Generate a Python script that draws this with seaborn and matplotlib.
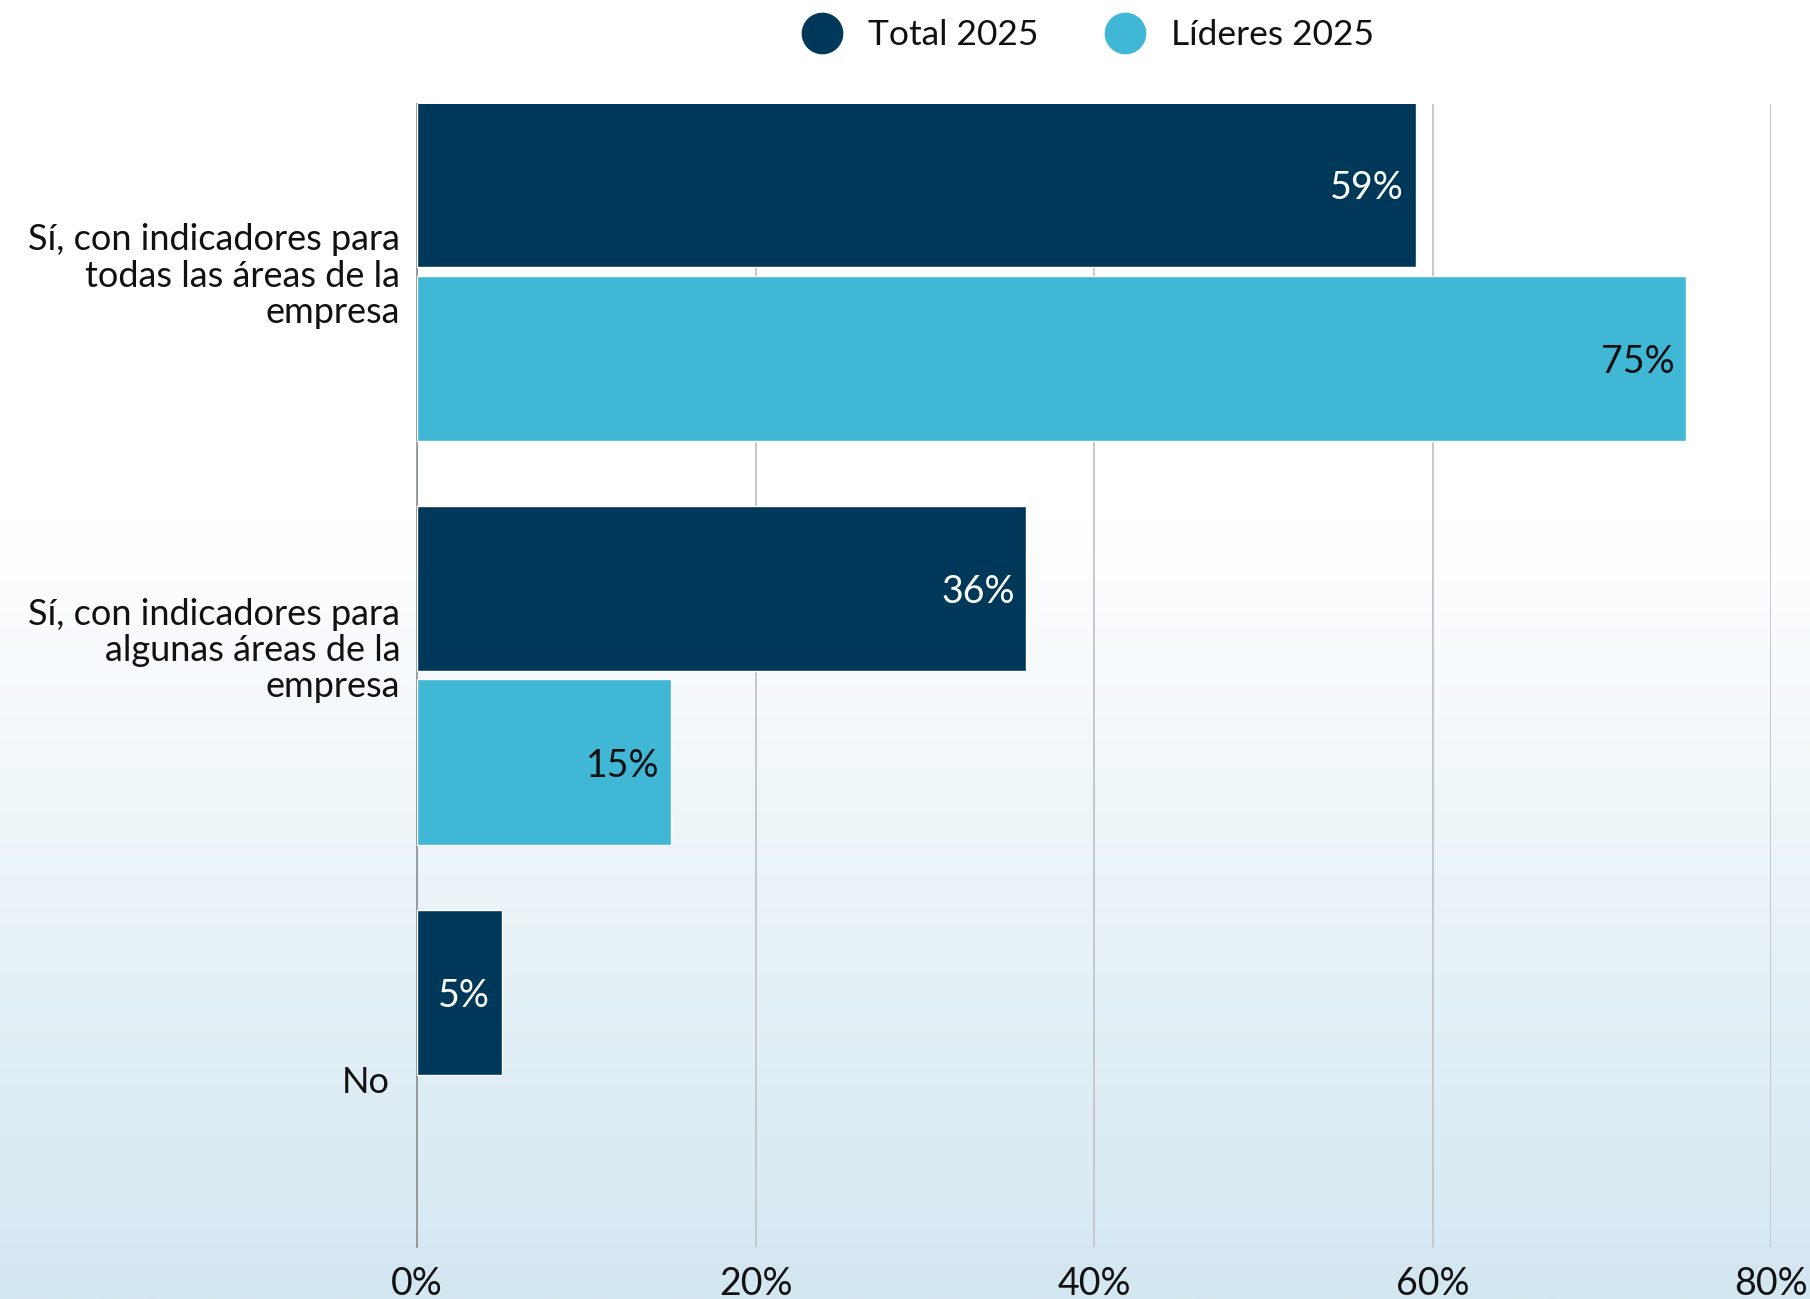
import numpy as np
import pandas as pd
import matplotlib
matplotlib.use("Agg")
import matplotlib.pyplot as plt
import matplotlib.transforms as mtransforms
from matplotlib.colors import LinearSegmentedColormap
from matplotlib.lines import Line2D
import seaborn as sns

# Survey answers and shares (%)
categories = [
    "Sí, con indicadores para\ntodas las áreas de la\nempresa",
    "Sí, con indicadores para\nalgunas áreas de la\nempresa",
    "No",
]
series = ["Total 2025", "Líderes 2025"]
total_2025 = [59, 36, 5]
lideres_2025 = [75, 15, None]
x_ticks = [0, 20, 40, 60, 80]
x_tick_labels = ["0%", "20%", "40%", "60%", "80%"]

NAVY = "#00385a"
SKY = "#41b7d6"
palette = {series[0]: NAVY, series[1]: SKY}
label_colors = {series[0]: "white", series[1]: "#111111"}

rows = []
for cat, t, l in zip(categories, total_2025, lideres_2025):
    if t is not None:
        rows.append({"categoria": cat, "serie": series[0], "valor": t})
    if l is not None:
        rows.append({"categoria": cat, "serie": series[1], "valor": l})
df = pd.DataFrame(rows)

sns.set_theme(style="white")
plt.rcParams["font.family"] = ["Lato", "DejaVu Sans"]

fig = plt.figure(figsize=(18.10, 12.99), dpi=100)
fig.patch.set_facecolor("white")

# Vertical background wash: white at the top fading to pale blue at the bottom
bg = fig.add_axes([0, 0, 1, 1], zorder=-10)
bg.set_axis_off()
n = 512
t = np.linspace(0, 1, n)  # 0 = top, 1 = bottom
ramp = np.clip((t - 0.40) / 0.60, 0, 1)
cmap = LinearSegmentedColormap.from_list("wash", ["#ffffff", "#d3e7f1"])
bg.imshow(ramp[:, None], aspect="auto", cmap=cmap, vmin=0, vmax=1,
          extent=[0, 1, 0, 1], interpolation="bilinear")
bg.set_xlim(0, 1)
bg.set_ylim(0, 1)

ax = fig.add_axes([0.2304, 0.040, 0.7481, 0.8803])
ax.set_facecolor("none")

sns.barplot(
    data=df, y="categoria", x="valor", hue="serie",
    order=categories, hue_order=series, palette=palette,
    orient="h", width=0.86, gap=0.047, saturation=1,
    legend=False, ax=ax, zorder=3,
)

# Value labels inside the bar ends
for container, name in zip(ax.containers, series):
    for patch in container:
        w = patch.get_width()
        if not np.isfinite(w) or w == 0:
            continue
        yc = patch.get_y() + patch.get_height() / 2
        ax.annotate(f"{w:.0f}%", xy=(w, yc), xytext=(-8.5, -2.5),
                    textcoords="offset points", ha="right", va="center",
                    fontsize=27, color=label_colors[name], zorder=5)

ax.set_xlim(0, 80)
ax.set_ylim(2.416, -0.416)
ax.set_xticks(x_ticks)
ax.set_xticklabels(x_tick_labels)
ax.set_xlabel("")
ax.set_ylabel("")

ax.grid(axis="x", color="#c4c8cb", linewidth=1.4, zorder=0)
ax.grid(axis="y", visible=False)
ax.set_axisbelow(True)
for side in ["top", "right", "bottom"]:
    ax.spines[side].set_visible(False)
ax.spines["left"].set_color("#8a8f93")
ax.spines["left"].set_linewidth(1.2)

ax.tick_params(axis="x", length=0, pad=14, labelsize=27, labelcolor="#111111")
ax.tick_params(axis="y", length=0, pad=12, labelsize=26, labelcolor="#111111")

# Per-label nudges (points) for the category labels
label_nudges = [(0, 0), (0, 21), (-7.5, 0)]
for lbl, (dx, dy) in zip(ax.get_yticklabels(), label_nudges):
    lbl.set_linespacing(1.12)
    lbl.set_horizontalalignment("right")
    lbl.set_multialignment("right")
    if dx or dy:
        shift = mtransforms.ScaledTranslation(dx / 72, dy / 72, fig.dpi_scale_trans)
        lbl.set_transform(lbl.get_transform() + shift)

handles = [
    Line2D([0], [0], marker="o", linestyle="", markersize=29,
           markerfacecolor=palette[s], markeredgecolor=palette[s], label=s)
    for s in series
]
fig.legend(handles=handles, loc="center", bbox_to_anchor=(0.597, 0.973),
           ncol=2, frameon=False, fontsize=25.5, handletextpad=0.3,
           columnspacing=1.45, labelcolor="#111111")

fig.savefig("out.png", dpi=100, facecolor=fig.get_facecolor())
